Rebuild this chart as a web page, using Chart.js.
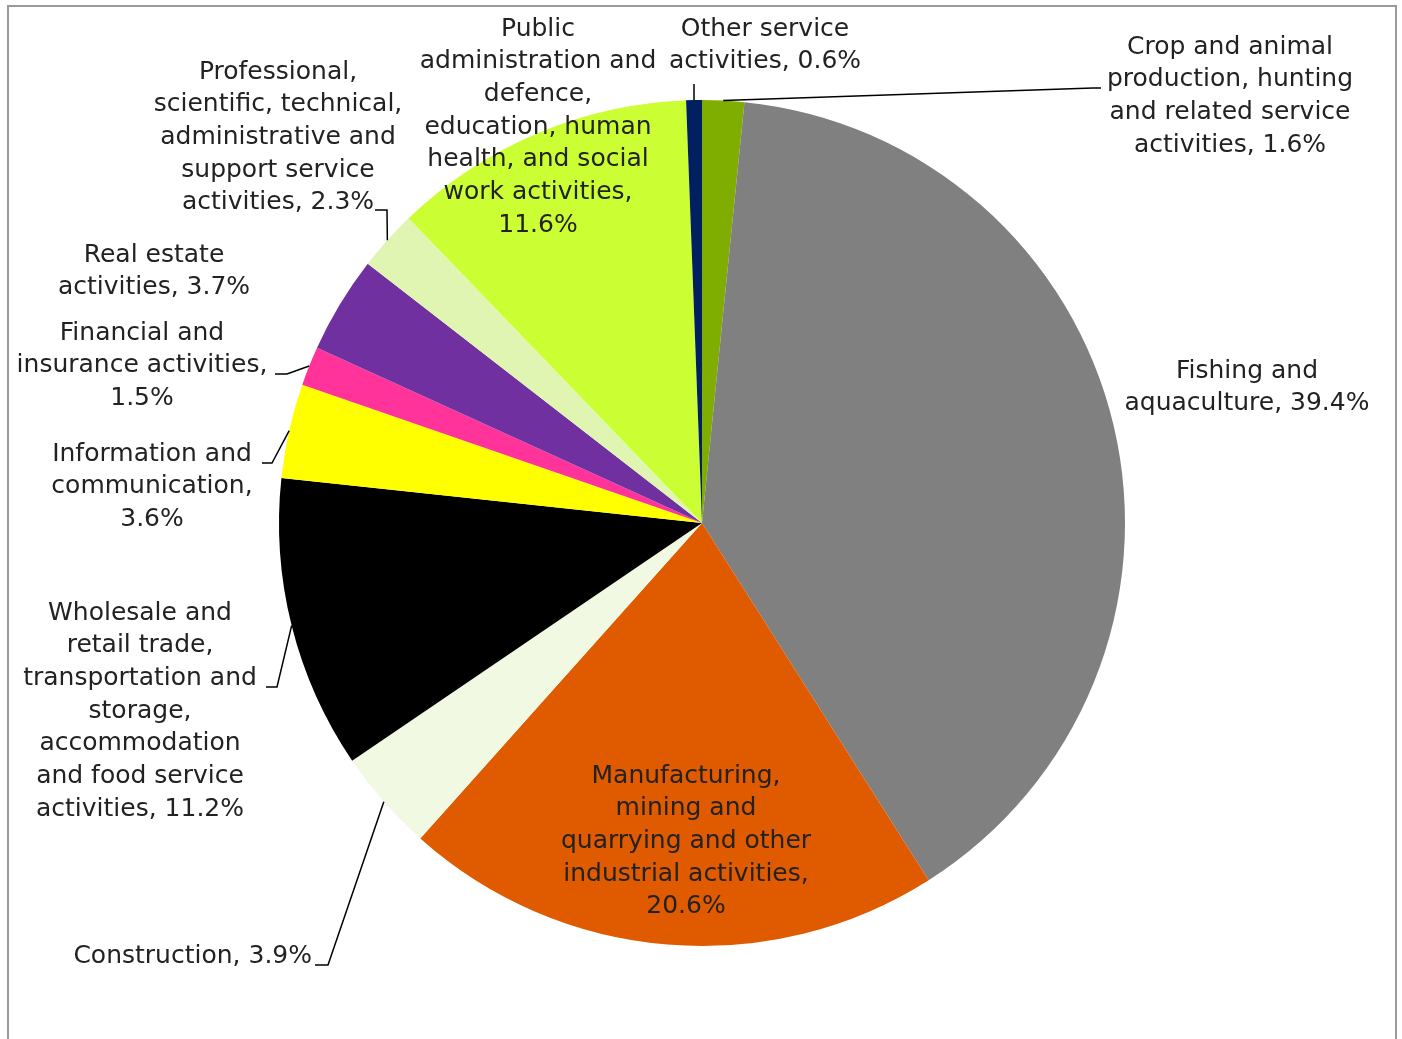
<!DOCTYPE html>
<html>
<head>
<meta charset="utf-8">
<script src="https://cdn.jsdelivr.net/npm/chart.js@4/dist/chart.umd.min.js"></script>
<style>
  html, body { margin: 0; padding: 0; background: #fff; }
  #wrap { position: relative; width: 1402px; height: 1039px; }
  #frame {
    position: absolute; left: 7px; top: 5px; width: 1390px; height: 1060px;
    border: 2px solid #9a9a9a; box-sizing: border-box;
  }
  canvas { position: absolute; left: 0; top: 0; }
</style>
</head>
<body>
<div id="wrap">
  <div id="frame"></div>
  <canvas id="chart" width="1402" height="1039"></canvas>
</div>
<script>
// slices, clockwise from 12 o'clock
const categories = [
  "Crop and animal production, hunting and related service activities",
  "Fishing and aquaculture",
  "Manufacturing, mining and quarrying and other industrial activities",
  "Construction",
  "Wholesale and retail trade, transportation and storage, accommodation and food service activities",
  "Information and communication",
  "Financial and insurance activities",
  "Real estate activities",
  "Professional, scientific, technical, administrative and support service activities",
  "Public administration and defence, education, human health, and social work activities",
  "Other service activities"
];
const shares = [1.6, 39.4, 20.6, 3.9, 11.2, 3.6, 1.5, 3.7, 2.3, 11.6, 0.6];
const sliceColors = [
  "#7fae00", "#808080", "#e05a00", "#f2f9e3", "#000000", "#ffff00",
  "#ff3399", "#7030a0", "#e0f5b2", "#ccff33", "#002060"
];

// how each label wraps, {v} is the value
const labelLines = [
  ["Crop and animal", "production, hunting", "and related service", "activities, {v}"],
  ["Fishing and", "aquaculture, {v}"],
  ["Manufacturing,", "mining and", "quarrying and other", "industrial activities,", "{v}"],
  ["Construction, {v}"],
  ["Wholesale and", "retail trade,", "transportation and", "storage,", "accommodation", "and food service", "activities, {v}"],
  ["Information and", "communication,", "{v}"],
  ["Financial and", "insurance activities,", "{v}"],
  ["Real estate", "activities, {v}"],
  ["Professional,", "scientific, technical,", "administrative and", "support service", "activities, {v}"],
  ["Public", "administration and", "defence,", "education, human", "health, and social", "work activities,", "{v}"],
  ["Other service", "activities, {v}"]
];

// label placement (x, y of first line, align) and leader bends
const labelLayout = [
  { x: 1230, y: 47, align: "center", leader: [[1093, 88], [1101, 88]] },
  { x: 1247, y: 371, align: "center", leader: null },
  { x: 686, y: 776, align: "center", leader: null },
  { x: 312, y: 956, align: "right", leader: [[328, 965], [315, 965]] },
  { x: 140, y: 613, align: "center", leader: [[277, 687], [266, 687]] },
  { x: 152, y: 454, align: "center", leader: [[272, 463], [262, 463]] },
  { x: 142, y: 333, align: "center", leader: [[287, 374], [275, 374]] },
  { x: 154, y: 255, align: "center", leader: null },
  { x: 278, y: 72, align: "center", leader: [[387, 210], [375, 210]] },
  { x: 538, y: 29, align: "center", leader: null },
  { x: 765, y: 29, align: "center", leader: [[694, 84]] }
];

const FONT = '25px "DejaVu Sans"';
const LINE_H = 32.7;

const pieLabels = {
  id: "pieLabels",
  afterDatasetsDraw(chart) {
    const ctx = chart.ctx;
    const meta = chart.getDatasetMeta(0);
    ctx.save();
    meta.data.forEach((arc, i) => {
      const lay = labelLayout[i];
      const p = arc.getProps(["x", "y", "startAngle", "endAngle", "outerRadius"], true);
      const mid = (p.startAngle + p.endAngle) / 2;
      if (lay.leader) {
        ctx.beginPath();
        ctx.moveTo(p.x + Math.cos(mid) * p.outerRadius, p.y + Math.sin(mid) * p.outerRadius);
        lay.leader.forEach(pt => ctx.lineTo(pt[0], pt[1]));
        ctx.strokeStyle = "#000";
        ctx.lineWidth = 1.5;
        ctx.stroke();
      }
      ctx.font = FONT;
      ctx.fillStyle = "#222";
      ctx.textAlign = lay.align;
      ctx.textBaseline = "middle";
      labelLines[i].forEach((line, k) => {
        const txt = line.replace("{v}", shares[i].toFixed(1) + "%");
        ctx.fillText(txt, lay.x, lay.y + k * LINE_H);
      });
    });
    ctx.restore();
  }
};

new Chart(document.getElementById("chart"), {
  type: "pie",
  data: {
    labels: categories,
    datasets: [{
      data: shares,
      backgroundColor: sliceColors,
      borderWidth: 0
    }]
  },
  options: {
    responsive: false,
    animation: false,
    layout: { padding: { left: 279, right: 277, top: 100, bottom: 93 } },
    plugins: {
      legend: { display: false },
      tooltip: { enabled: false }
    }
  },
  plugins: [pieLabels]
});
</script>
</body>
</html>
